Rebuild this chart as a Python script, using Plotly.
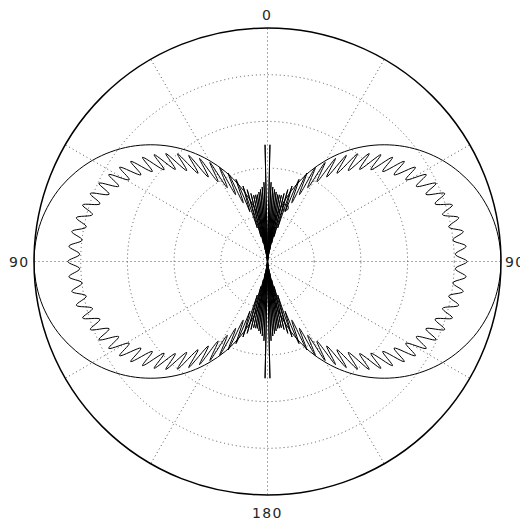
import plotly.graph_objects as go

# ---- data, upper-right quadrant, angle in degrees from top, clockwise
# smooth reference pattern
smooth_theta = [0, 5, 10, 15, 20, 25, 30, 35, 40, 45, 50, 55, 60, 65, 70, 75, 80, 85, 90]
smooth_r = [0.0, 0.087, 0.174, 0.259, 0.342, 0.423, 0.5, 0.574, 0.643, 0.707,
            0.766, 0.819, 0.866, 0.906, 0.94, 0.966, 0.985, 0.996, 1.0]

# spiky fan near the axis (drawn with straight segments)
fan_theta = [0, 1.2, 1.8, 2.6, 3.3, 4.1, 4.8, 5.6, 6.3, 7.1, 7.8, 8.6, 9.3, 10.1,
             10.9, 11.8, 12.7, 13.7, 14.7, 15.8, 16.9, 18.0, 19.5]
fan_r = [0.0, 0.50, 0.0, 0.34, 0.0, 0.32, 0.0, 0.31, 0.0, 0.30, 0.01, 0.29, 0.03, 0.29,
         0.05, 0.29, 0.08, 0.30, 0.11, 0.32, 0.15, 0.34, 0.226]

# rippled pattern (alternating inner / outer turning points)
ripple_theta = [19.5, 21.0, 22.5, 24.0, 25.5, 27.0, 28.6, 30.2, 31.8, 33.4, 35.0, 36.6,
                38.2, 39.9, 41.6, 43.3, 45.0, 46.7, 48.4, 50.2, 52.0, 53.8, 55.6, 57.5,
                59.4, 61.3, 63.2, 65.1, 67.0, 69.0, 71.0, 73.0, 75.0, 77.1, 79.2, 81.3,
                83.4, 85.6, 87.8, 90.0]
ripple_r = [0.226, 0.377, 0.272, 0.415, 0.317, 0.452, 0.360, 0.491, 0.402, 0.529, 0.442,
            0.566, 0.481, 0.601, 0.521, 0.635, 0.558, 0.667, 0.592, 0.697, 0.626, 0.726,
            0.657, 0.751, 0.688, 0.775, 0.714, 0.796, 0.737, 0.813, 0.759, 0.828, 0.776,
            0.840, 0.790, 0.848, 0.799, 0.853, 0.805, 0.855]

marker_theta = [18.4]
marker_r = [0.244]

angle_ticks = [0, 30, 60, 90, 120, 150, 180, 210, 240, 270, 300, 330]
label_angles = [0, 90, 180, 270]
label_texts = ["0", "9\u200a0", "1\u200a8\u200a0", "9\u200a0"]
radial_ticks = [0.2, 0.4, 0.6, 0.8, 1.0]


def lobe(th, r):
    """upper quadrant -> full right lobe (0..180) by mirror about 90 deg"""
    t2 = th + [180 - t for t in reversed(th[:-1])]
    r2 = r + list(reversed(r[:-1]))
    return t2, r2


def neg(th):
    return [-t for t in th]


fig = go.Figure()
LC = "black"

# smooth pattern: both lobes
st, sr = lobe(smooth_theta, smooth_r)
for th in (st, neg(st)):
    fig.add_trace(go.Scatterpolar(theta=th, r=sr, mode="lines",
                                  line=dict(color=LC, width=1, shape="spline"),
                                  hoverinfo="skip"))

# rippled pattern: both lobes
rt, rr = lobe(ripple_theta, ripple_r)
for th in (rt, neg(rt)):
    fig.add_trace(go.Scatterpolar(theta=th, r=rr, mode="lines",
                                  line=dict(color=LC, width=1, shape="spline"),
                                  hoverinfo="skip"))

# fans near 0 and 180
top_t = neg(list(reversed(fan_theta))) + fan_theta
top_r = list(reversed(fan_r)) + fan_r
bot_t = [180 - t for t in top_t]
for th in (top_t, bot_t):
    fig.add_trace(go.Scatterpolar(theta=th, r=top_r, mode="lines",
                                  line=dict(color=LC, width=1),
                                  hoverinfo="skip"))

fig.add_trace(go.Scatterpolar(theta=marker_theta, r=marker_r, mode="markers",
                              marker=dict(symbol="circle-open", size=6,
                                          color=LC, line=dict(width=1)),
                              hoverinfo="skip"))

# angular labels placed just outside the rim (paper coordinates of the polar domain)
label_pos = {0: (0.498, 1.028, "center"), 90: (1.054, 0.499, "right"),
             180: (0.499, -0.039, "center"), 270: (-0.034, 0.499, "center")}
annotations = []
for ang, txt in zip(label_angles, label_texts):
    x, y, anc = label_pos[ang]
    annotations.append(dict(text=txt, x=x, y=y, xref="paper", yref="paper",
                            xanchor=anc, yanchor="middle", showarrow=False,
                            font=dict(family="DejaVu Sans", size=14, color="#262626")))

fig.update_layout(
    width=528, height=523,
    margin=dict(l=26, r=35, t=20, b=36),
    paper_bgcolor="white",
    showlegend=False,
    font=dict(family="DejaVu Sans", size=14, color="#262626"),
    annotations=annotations,
    polar=dict(
        bgcolor="white",
        radialaxis=dict(range=[0, 1], tickvals=radial_ticks, showticklabels=False,
                        ticks="", showline=False, gridcolor="#555",
                        griddash="1px,3px", gridwidth=1),
        angularaxis=dict(rotation=90, direction="clockwise",
                         tickmode="array", tickvals=angle_ticks, showticklabels=False,
                         ticks="", showline=True, linecolor="black", linewidth=1.5,
                         gridcolor="#555", griddash="1px,3px", gridwidth=1),
    ),
)

fig.write_html("out.html")
